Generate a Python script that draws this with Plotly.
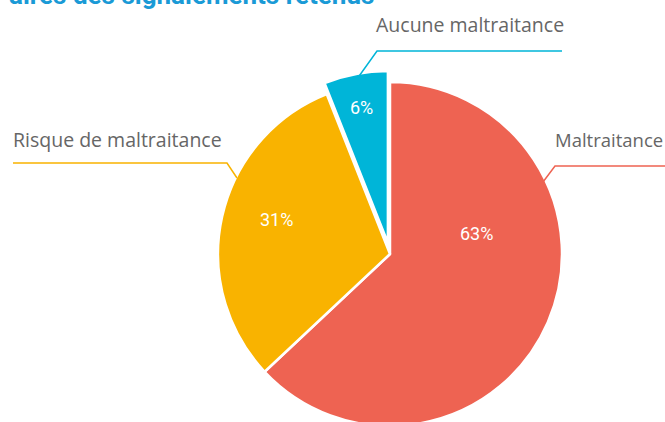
import plotly.graph_objects as go

labels = ["Maltraitance", "Risque de maltraitance", "Aucune maltraitance"]
values = [63, 31, 6]
colors = ["#EE6352", "#F9B300", "#00B5D8"]
pulls = [0, 0, 0.065]
title_text = "aires des signalements retenus"

W, H = 665, 440
FONT = "Open Sans"

def px(x):
    return x / W

def py(y):
    return 1 - y / H

# pie box: centre (390,254), radius 172 incl. pull
R = 172 * (1 + max(pulls))
cx, cy = 390, 254
fig = go.Figure(go.Pie(
    labels=labels, values=values, sort=False, direction="clockwise", rotation=0,
    pull=pulls,
    marker=dict(colors=colors, line=dict(color="white", width=2.5)),
    textinfo="none",
    hoverinfo="label+percent", showlegend=False,
    domain=dict(x=[px(cx - R), px(cx + R)], y=[py(cy + R), py(cy - R)]),
))

# percentage labels inside slices
total = sum(values)
pct_pos = [(476, 233), (276, 219), (361, 107)]
for v, (x, y) in zip(values, pct_pos):
    fig.add_annotation(text="{:.0f}%".format(100 * v / total), x=px(x), y=py(y),
                       xref="paper", yref="paper", xanchor="center", yanchor="middle",
                       showarrow=False, font=dict(family="Roboto", size=18, color="white"))

# leader lines
leaders = [
    ([543, 555, 665], [182, 166, 166], colors[0]),
    ([237, 227, 13], [178, 163, 163], colors[1]),
    ([357, 377, 562], [79, 51, 51], colors[2]),
]
for xs, ys, c in leaders:
    path = "M {} {} L {} {} L {} {}".format(px(xs[0]), py(ys[0]), px(xs[1]), py(ys[1]), px(xs[2]), py(ys[2]))
    fig.add_shape(type="path", path=path, xref="paper", yref="paper",
                  line=dict(color=c, width=1.5))

label_pos = [(553, 140, 18.5), (11, 140, 19.5), (374, 25, 19.5)]
for lab, (x, y, s) in zip(labels, label_pos):
    fig.add_annotation(text=lab, x=px(x), y=py(y), xref="paper", yref="paper",
                       xanchor="left", yanchor="middle", showarrow=False,
                       font=dict(family=FONT, size=s, color="#666666"))

fig.add_annotation(text="<b>" + title_text + "</b>", x=px(376), y=py(-5), xref="paper", yref="paper",
                   xanchor="right", yanchor="middle", showarrow=False,
                   font=dict(family="Roboto", size=26, color="#1A9AD6"))

fig.update_layout(width=W, height=H, margin=dict(l=0, r=0, t=0, b=0),
                  paper_bgcolor="white", plot_bgcolor="white")

fig.write_html("out.html", config={"displayModeBar": False},
               post_script="document.body.style.margin='0';document.body.style.overflow='hidden';")
